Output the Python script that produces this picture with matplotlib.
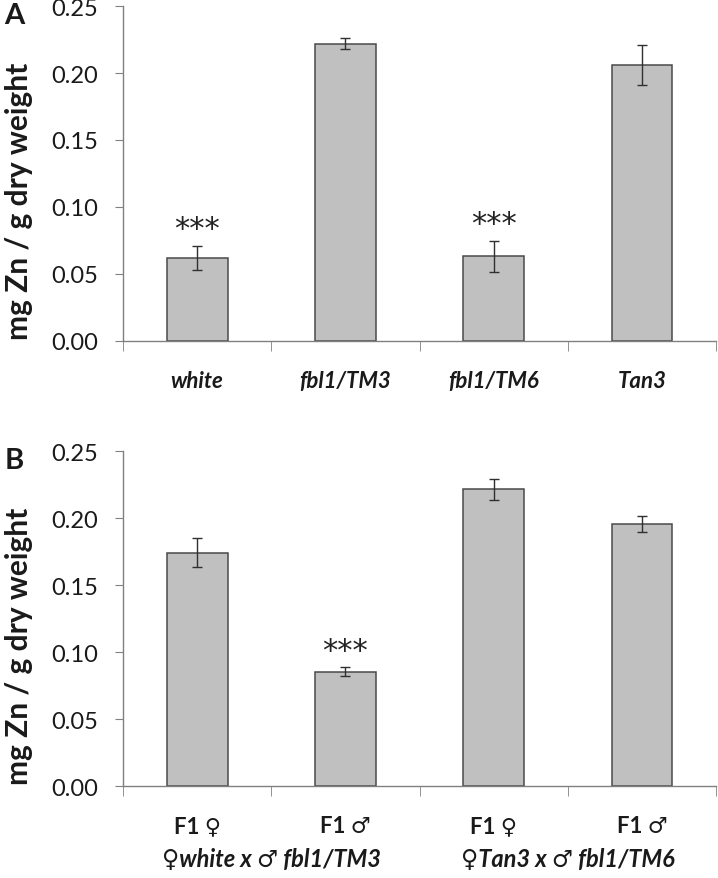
import matplotlib
matplotlib.use("Agg")
import matplotlib.pyplot as plt
import matplotlib.transforms as mtransforms
from matplotlib.ticker import FormatStrFormatter, MultipleLocator
import numpy as np

# Panel A data
labels_a = ["white", "fbl1/TM3", "fbl1/TM6", "Tan3"]
means_a = [0.062, 0.222, 0.0632, 0.206]
errs_a = [0.009, 0.0044, 0.0115, 0.015]
stars_a = ["***", "", "***", ""]

# Panel B data
labels_b = ["F1 \u2640", "F1 \u2642", "F1 \u2640", "F1 \u2642"]
crosses_b = ["\u2640white x \u2642 fbl1/TM3", "\u2640Tan3 x \u2642 fbl1/TM6"]
means_b = [0.1745, 0.0857, 0.2217, 0.1955]
errs_b = [0.0107, 0.003, 0.0077, 0.006]
stars_b = ["", "***", "", ""]

FONT = ["Lato", "DejaVu Sans"]
plt.rcParams["font.family"] = FONT
BAR = "#c0c0c0"
EDGE = "#4a4a4a"
SPINE = "#808080"
TXT = "#1a1a1a"

fig = plt.figure(figsize=(7.18, 8.79), dpi=100)
ax_a = fig.add_axes([0.1713, 0.611, 0.826, 0.381])
ax_b = fig.add_axes([0.1713, 0.1043, 0.826, 0.381])


def draw_panel(ax, means, errs, stars):
    x = np.arange(len(means))
    ax.bar(x, means, width=0.41, color=BAR, edgecolor=EDGE, linewidth=1.1,
           yerr=errs, capsize=3.5,
           error_kw=dict(ecolor="#303030", elinewidth=1.0, capthick=1.0))
    for xi, m, e, s in zip(x, means, errs, stars):
        if s:
            ax.text(xi, m + e + 0.002, s, ha="center", va="bottom",
                    fontsize=22, color="#222222", family=["DejaVu Sans"])
    ax.set_xlim(-0.5, len(means) - 0.5)
    ax.set_ylim(0, 0.25)
    ax.yaxis.set_major_locator(MultipleLocator(0.05))
    ax.yaxis.set_major_formatter(FormatStrFormatter("%.2f"))
    for side in ["top", "right"]:
        ax.spines[side].set_visible(False)
    for side in ["left", "bottom"]:
        ax.spines[side].set_color(SPINE)
        ax.spines[side].set_linewidth(1.0)
    ax.set_xticks(x)
    ax.set_xticklabels([])
    ax.tick_params(axis="x", which="major", length=0)
    ax.set_xticks(np.arange(len(means) + 1) - 0.5, minor=True)
    ax.tick_params(axis="x", which="minor", length=7, color=SPINE, direction="out")
    ax.tick_params(axis="y", length=6, color=SPINE, direction="out",
                   labelsize=17, labelcolor=TXT, pad=12)
    ax.set_ylabel("mg Zn / g dry weight", fontsize=21.5, fontweight="bold",
                  color=TXT)
    ax.yaxis.set_label_coords(-0.152, 0.42)


draw_panel(ax_a, means_a, errs_a, stars_a)
draw_panel(ax_b, means_b, errs_b, stars_b)

trans_a = mtransforms.blended_transform_factory(ax_a.transData, ax_a.transAxes)
for i, lab in enumerate(labels_a):
    ax_a.text(i, -0.117, lab, transform=trans_a, ha="center", va="center",
              fontsize=16, fontweight="bold", style="italic", color=TXT)

trans_b = mtransforms.blended_transform_factory(ax_b.transData, ax_b.transAxes)
for i, lab in enumerate(labels_b):
    ax_b.text(i, -0.117, lab, transform=trans_b, ha="center", va="center",
              fontsize=16, fontweight="bold", color=TXT)
for j, lab in enumerate(crosses_b):
    ax_b.text(2 * j + 0.5, -0.215, lab, transform=trans_b, ha="center", va="center",
              fontsize=17, fontweight="bold", style="italic", color=TXT)

fig.text(0.006, 0.982, "A", fontsize=21, fontweight="bold", color=TXT,
         ha="left", va="center")
fig.text(0.006, 0.476, "B", fontsize=21, fontweight="bold", color=TXT,
         ha="left", va="center")

fig.savefig("out.png", dpi=100)
